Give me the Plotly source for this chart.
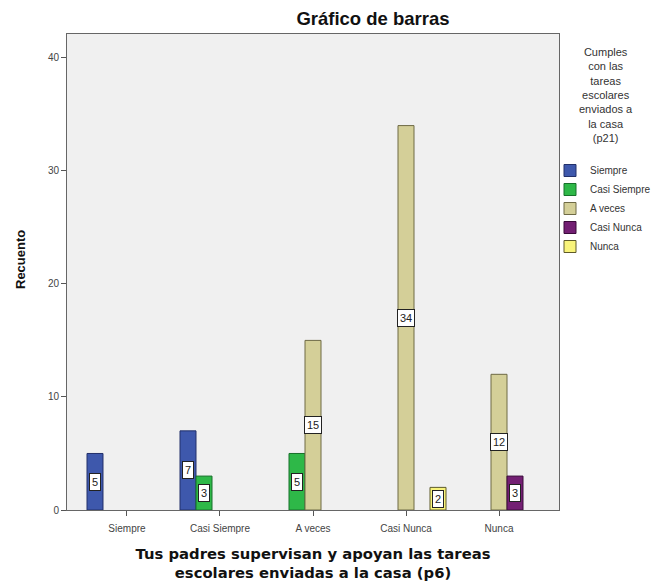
import plotly.graph_objects as go

# Groups on the x axis (p6) and the response series (p21)
groups = ["Siempre", "Casi Siempre", "A veces", "Casi Nunca", "Nunca"]
series = ["Siempre", "Casi Siempre", "A veces", "Casi Nunca", "Nunca"]

# Counts per series, one value per group (None = no bar)
siempre = [5, 7, None, None, None]
casi_siempre = [None, 3, 5, None, None]
a_veces = [None, None, 15, 34, 12]
casi_nunca = [None, None, None, None, 3]
nunca = [None, None, None, 2, None]

counts = [siempre, casi_siempre, a_veces, casi_nunca, nunca]

fills = ["#3E58AC", "#2EB848", "#D4CF98", "#731F73", "#F8F37A"]
edges = ["#22306A", "#17702A", "#6E6A45", "#3A0A3A", "#5E5A2A"]

W, H = 657, 584
ML, MR, MT, MB = 67, 98, 34, 74
PW, PH = W - ML - MR, H - MT - MB


def px_x(px):
    """Paper x fraction for a pixel column."""
    return (px - ML) / PW


def px_y(py):
    """Paper y fraction for a pixel row (from the top)."""
    return (H - MB - py) / PH


bargap = 0.14
slot = (1 - bargap) / len(series)
xpos = list(range(len(groups)))

fig = go.Figure()
for name, vals, fc, ec in zip(series, counts, fills, edges):
    fig.add_trace(go.Bar(
        name=name, x=xpos, y=vals,
        marker=dict(color=fc, line=dict(color=ec, width=1)),
        hoverinfo="skip",
    ))

# Boxed value labels in the middle of each bar
for si, vals in enumerate(counts):
    for gi, v in enumerate(vals):
        if v is None:
            continue
        fig.add_annotation(
            x=gi + (si - (len(series) - 1) / 2) * slot, y=v / 2,
            xref="x", yref="y", text=str(v), showarrow=False,
            font=dict(family="Arial, Liberation Sans", size=11, color="#222"),
            bgcolor="white", bordercolor="#222", borderwidth=1, borderpad=2,
        )

# Legend heading, centred above the legend entries
fig.add_annotation(
    text="Cumples<br>con las<br>tareas<br>escolares<br>enviados a<br>la casa<br>(p21)",
    x=px_x(606), y=px_y(44), xref="paper", yref="paper",
    xanchor="center", yanchor="top", align="center", showarrow=False,
    font=dict(family="Arial, Liberation Sans", size=11, color="#333"),
)

# Y axis title
fig.add_annotation(
    text="<b>Recuento</b>", textangle=-90,
    x=px_x(20), y=px_y(260), xref="paper", yref="paper",
    xanchor="center", yanchor="middle", showarrow=False,
    font=dict(family="Arial, Liberation Sans", size=13, color="#111"),
)

axis_font = dict(family="Arial, Liberation Sans", size=10, color="#444")

fig.update_layout(
    width=W, height=H,
    margin=dict(l=ML, r=MR, t=MT, b=MB, autoexpand=False),
    paper_bgcolor="white", plot_bgcolor="#F0F0F0",
    barmode="group", bargap=bargap, bargroupgap=0,
    showlegend=True,
    legend=dict(
        x=px_x(550), y=px_y(156), xref="paper", yref="paper",
        xanchor="left", yanchor="top",
        font=dict(family="Arial, Liberation Sans", size=10, color="#333"),
        bgcolor="rgba(0,0,0,0)", tracegroupgap=0, itemwidth=30,
    ),
    title=dict(text="<b>Gráfico de barras</b>", x=373 / W, xanchor="center",
               y=1 - 19 / H, yanchor="middle",
               font=dict(family="Arial, Liberation Sans", size=18.5, color="#111")),
)

fig.update_xaxes(
    range=[-0.645, 4.645], tickvals=xpos, ticktext=groups,
    showgrid=False, zeroline=False, ticks="outside", ticklen=5, tickcolor="#555",
    showline=True, linecolor="#666", linewidth=1, mirror=True,
    tickfont=axis_font, ticklabelstandoff=4,
    title=dict(text="<b>Tus padres supervisan y apoyan las tareas<br>escolares enviadas a la casa (p6)</b>",
               font=dict(family="DejaVu Sans", size=14.8, color="#111"), standoff=15),
)
fig.update_yaxes(
    range=[0, 42.1], tickvals=[0, 10, 20, 30, 40],
    showgrid=False, zeroline=False, ticks="outside", ticklen=5, tickcolor="#555",
    showline=True, linecolor="#666", linewidth=1, mirror=True,
    tickfont=axis_font,
)

fig.write_html("out.html")
